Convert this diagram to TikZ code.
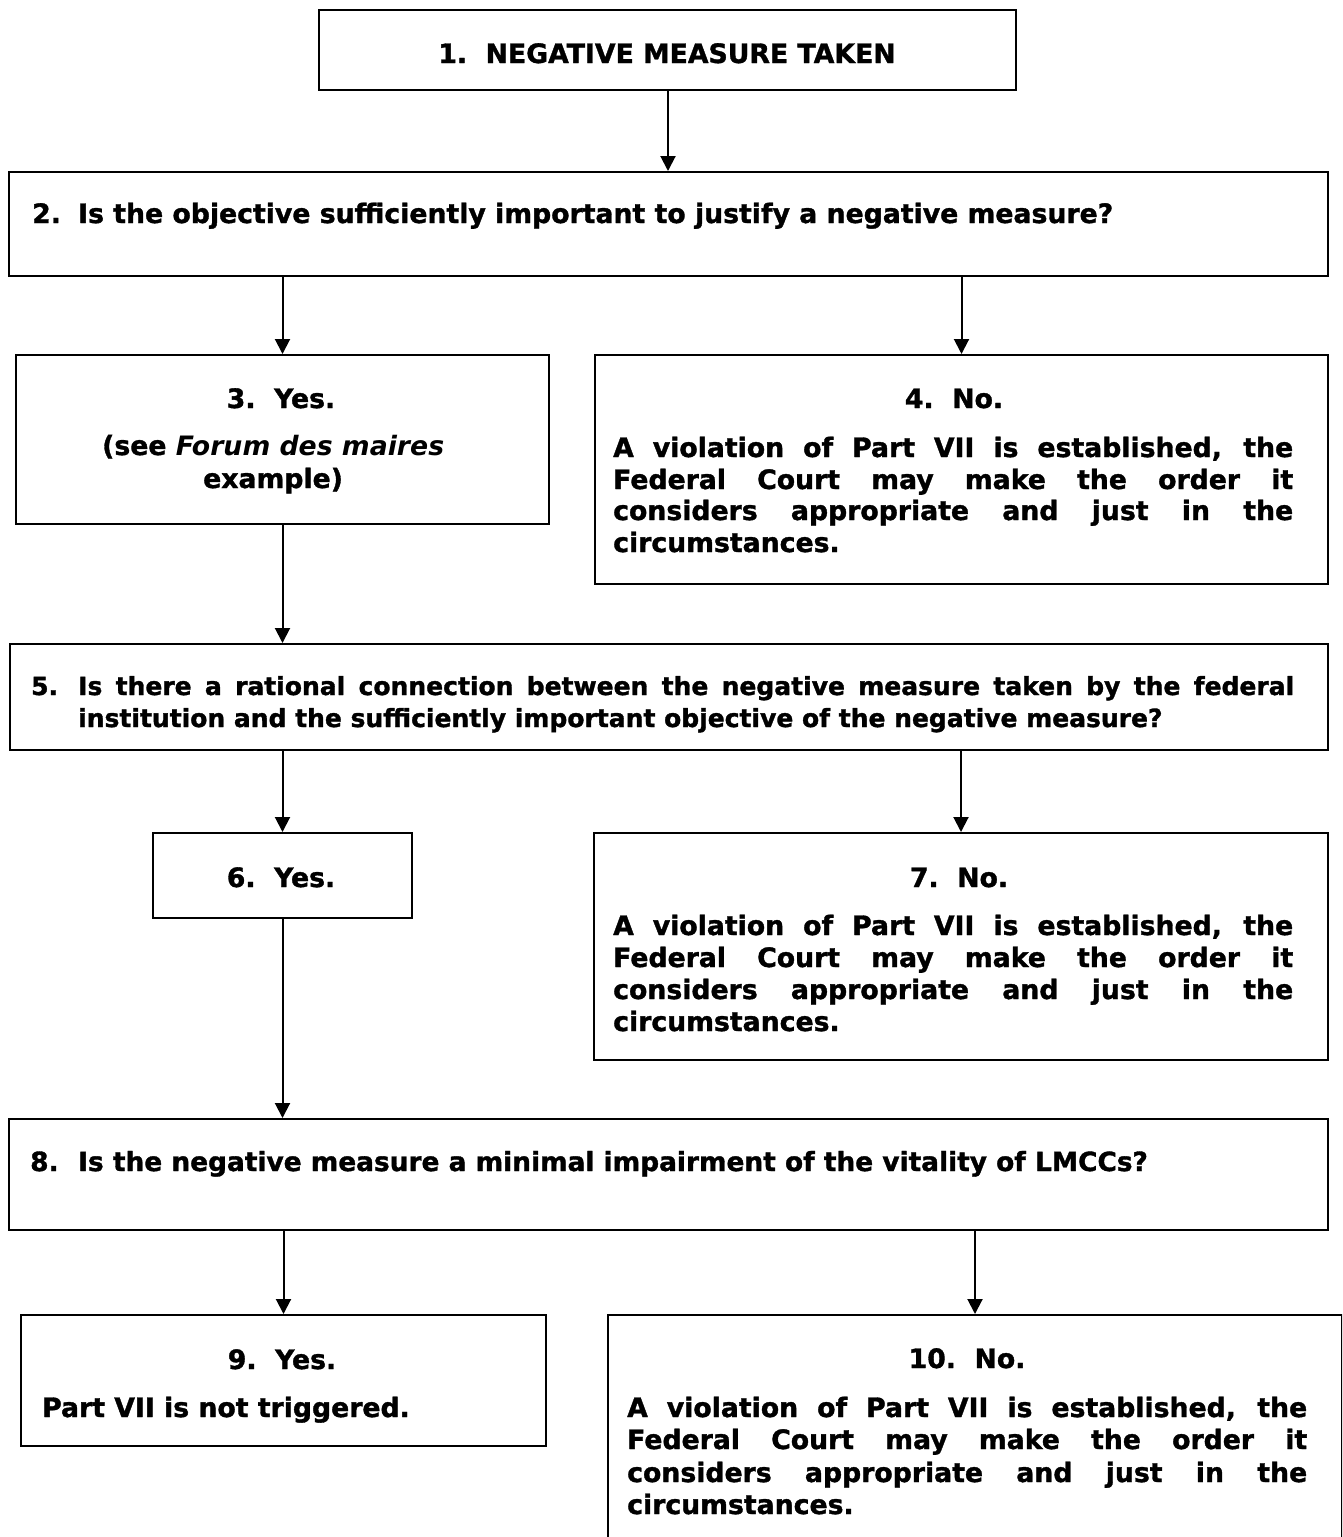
\documentclass[tikz,border=0pt]{standalone}
\usepackage{fontspec}
\setmainfont{DejaVu Sans}[BoldFeatures={FakeBold=1.3}]
\usetikzlibrary{arrows.meta}
\tikzset{
  box/.style={draw=black, line width=2pt, rectangle, inner sep=0pt, anchor=north west},
  txt/.style={inner sep=0pt, font=\fontsize{26.7pt}{32pt}\selectfont\bfseries},
  smalltxt/.style={inner sep=0pt, font=\fontsize{25pt}{32pt}\selectfont\bfseries},
  arr/.style={line width=2pt, -{Triangle[width=15pt,length=15pt]}},
}
\newcommand{\jl}[1]{\makebox[680pt][s]{#1}}
\begin{document}
\begin{tikzpicture}[x=1pt,y=-1pt]
\useasboundingbox (0,0) rectangle (1342,1537);
\clip (0,0) rectangle (1342,1537);
% boxes
\node[box, minimum width=697pt, minimum height=80pt]  (b1) at (318,9) {};
\node[box, minimum width=1319pt, minimum height=104pt] (b2) at (8,171) {};
\node[box, minimum width=533pt, minimum height=169pt] (b3) at (15,354) {};
\node[box, minimum width=733pt, minimum height=229pt] (b4) at (594,354) {};
\node[box, minimum width=1318pt, minimum height=106pt] (b5) at (9,643) {};
\node[box, minimum width=259pt, minimum height=85pt]  (b6) at (152,832) {};
\node[box, minimum width=734pt, minimum height=227pt] (b7) at (593,832) {};
\node[box, minimum width=1319pt, minimum height=111pt] (b8) at (8,1118) {};
\node[box, minimum width=525pt, minimum height=131pt] (b9) at (20,1314) {};
\node[box, minimum width=734pt, minimum height=260pt] (b10) at (607,1314) {};
% texts
\node[txt, anchor=base] (t1) at (667,63) {1.\ \ NEGATIVE MEASURE TAKEN};
\node[txt, anchor=base west] (t2) at (32,223) {\makebox[46pt][l]{2.}Is the objective sufficiently important to justify a negative measure?};
\node[txt, anchor=base] (t3a) at (281,408) {3.\ \ Yes.};
\node[txt, anchor=base west] (t3b) at (102,455) {(see \textit{Forum des maires}};
\node[txt, anchor=base west] (t3c) at (203,488) {example)};
\node[txt, anchor=base] (t4a) at (954,408) {4.\ \ No.};
\node[txt, anchor=base west] (t4b) at (613,457) {\jl{A violation of Part VII is established, the}};
\node[txt, anchor=base west] (t4c) at (613,489) {\jl{Federal Court may make the order it}};
\node[txt, anchor=base west] (t4d) at (613,520) {\jl{considers appropriate and just in the}};
\node[txt, anchor=base west] (t4e) at (613,552) {circumstances.};
\node[smalltxt, anchor=base west] (t5a) at (31,695) {\makebox[47pt][l]{5.}\makebox[1216pt][s]{Is there a rational connection between the negative measure taken by the federal}};
\node[smalltxt, anchor=base west] (t5b) at (78,727) {institution and the sufficiently important objective of the negative measure?};
\node[txt, anchor=base] (t6) at (281,887) {6.\ \ Yes.};
\node[txt, anchor=base] (t7a) at (959,887) {7.\ \ No.};
\node[txt, anchor=base west] (t7b) at (613,935) {\jl{A violation of Part VII is established, the}};
\node[txt, anchor=base west] (t7c) at (613,967) {\jl{Federal Court may make the order it}};
\node[txt, anchor=base west] (t7d) at (613,999) {\jl{considers appropriate and just in the}};
\node[txt, anchor=base west] (t7e) at (613,1031) {circumstances.};
\node[txt, anchor=base west, font=\fontsize{26.4pt}{32pt}\selectfont\bfseries] (t8) at (30,1171) {\makebox[48pt][l]{8.}Is the negative measure a minimal impairment of the vitality of LMCCs?};
\node[txt, anchor=base] (t9a) at (282,1369) {9.\ \ Yes.};
\node[txt, anchor=base west] (t9b) at (42,1417) {Part VII is not triggered.};
\node[txt, anchor=base] (t10a) at (967,1368) {10.\ \ No.};
\node[txt, anchor=base west] (t10b) at (627,1417) {\jl{A violation of Part VII is established, the}};
\node[txt, anchor=base west] (t10c) at (627,1449) {\jl{Federal Court may make the order it}};
\node[txt, anchor=base west] (t10d) at (627,1482) {\jl{considers appropriate and just in the}};
\node[txt, anchor=base west] (t10e) at (627,1514) {circumstances.};
% connectors
\coordinate (x1) at (668,0);
\draw[arr] (b1.south -| x1) -- (b2.north -| x1);
\draw[arr] (b3.north |- b2.south) -- (b3.north);
\draw[arr] (b4.north |- b2.south) -- (b4.north);
\draw[arr] (b3.south) -- (b3.south |- b5.north);
\draw[arr] (b6.north |- b5.south) -- (b6.north);
\draw[arr] (b7.north |- b5.south) -- (b7.north);
\draw[arr] (b6.south) -- (b6.south |- b8.north);
\draw[arr] (b9.north |- b8.south) -- (b9.north);
\draw[arr] (b10.north |- b8.south) -- (b10.north);
\end{tikzpicture}
\end{document}
